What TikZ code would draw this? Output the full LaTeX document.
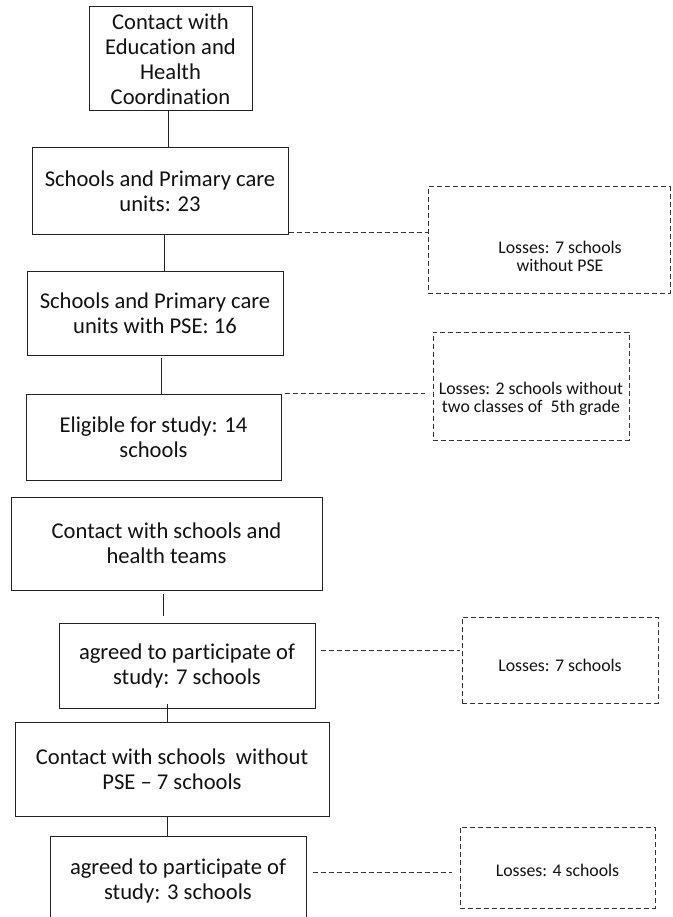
\documentclass[tikz,border=0pt]{standalone}
\usepackage{fontspec}
\setmainfont{Carlito}[Ligatures=NoCommon]
\newcommand{\boxfont}{\fontsize{22.6}{25}\selectfont}
\newcommand{\lossfont}{\fontsize{17.8}{18}\selectfont}
\definecolor{edge}{HTML}{222222}
\definecolor{lossedge}{HTML}{333333}
\definecolor{ink}{HTML}{111111}
\begin{document}
\begin{tikzpicture}[x=1pt,y=-1pt,
  stepbox/.style={draw=edge, text=ink, line width=1pt, inner sep=0pt, align=center, font=\boxfont},
  lossbox/.style={draw=lossedge, line width=1pt, dash pattern=on 5pt off 3pt, inner sep=0pt},
  losstext/.style={text=ink, align=center, inner sep=0pt, font=\lossfont},
  link/.style={draw=edge, line width=1pt},
  losslink/.style={draw=lossedge, line width=1pt, dash pattern=on 5pt off 3pt}]
\useasboundingbox (0,0) rectangle (672,917);
\clip (0,0) rectangle (672,917);

% main column
\node[stepbox, minimum width=163pt, minimum height=104pt] (b1) at (170.5,59) {Contact with\\Education and\\Health\\Coordination};
\node[stepbox, minimum width=256pt, minimum height=86pt] (b2) at (160,191) {Schools and Primary care\\units: 23};
\node[stepbox, minimum width=256pt, minimum height=84pt] (b3) at (155,313) {Schools and Primary care\\units with PSE: 16};
\node[stepbox, minimum width=255pt, minimum height=86pt] (b4) at (153.5,437) {Eligible for study: 14\\schools};
\node[stepbox, minimum width=311pt, minimum height=93pt] (b5) at (166.5,543.5) {Contact with schools and\\health teams};
\node[stepbox, minimum width=256pt, minimum height=85pt] (b6) at (187,665.5) {agreed to participate of\\study: 7 schools};
\node[stepbox, minimum width=314pt, minimum height=94pt] (b7) at (172,769) {Contact with schools\ \ without\\PSE -- 7 schools};
\node[stepbox, minimum width=256pt, minimum height=90pt] (b8) at (178,881) {agreed to participate of\\study: 3 schools};

% losses column
\node[lossbox, minimum width=242pt, minimum height=106pt] (L1) at (549,240) {};
\node[losstext] (t1) at (560,256) {Losses: 7 schools\\without PSE};
\node[lossbox, minimum width=196pt, minimum height=108pt] (L2) at (531,386) {};
\node[losstext] (t2) at (531,399) {Losses: 2 schools without\\two classes of\ \ 5th grade};
\node[lossbox, minimum width=196pt, minimum height=86pt] (L3) at (560,660) {};
\node[losstext] (t3) at (560,665) {Losses: 7 schools};
\node[lossbox, minimum width=195pt, minimum height=81pt] (L4) at (557.5,867.5) {};
\node[losstext] (t4) at (557.5,870) {Losses: 4 schools};

% vertical links
\coordinate (x12) at (168,0);
\coordinate (x23) at (164,0);
\coordinate (x34) at (161,0);
\coordinate (x56) at (163,0);
\coordinate (x67) at (167,0);
\coordinate (x78) at (167,0);
\draw[link] (b1.south -| x12) -- (b2.north -| x12);
\draw[link] (b2.south -| x23) -- (b3.north -| x23);
\draw[link, shorten <=2pt] (b3.south -| x34) -- (b4.north -| x34);
\draw[link, shorten <=3pt, shorten >=7pt] (b5.south -| x56) -- (b6.north -| x56);
\draw[link, shorten <=-5pt] (b6.south -| x67) -- (b7.north -| x67);
\draw[link] (b7.south -| x78) -- (b8.north -| x78);

% dashed links to losses
\coordinate (y1) at (0,232);
\coordinate (y3) at (0,650);
\coordinate (y4) at (0,872);
\draw[losslink] (b2.east |- y1) -- (L1.west |- y1);
\draw[losslink, shorten <=3pt, shorten >=8pt] (b4.north east) -- (L2.west |- b4.north);
\draw[losslink, shorten <=5pt, shorten >=2pt] (b6.east |- y3) -- (L3.west |- y3);
\draw[losslink, shorten <=6pt, shorten >=8pt] (b8.east |- y4) -- (L4.west |- y4);
\end{tikzpicture}
\end{document}
